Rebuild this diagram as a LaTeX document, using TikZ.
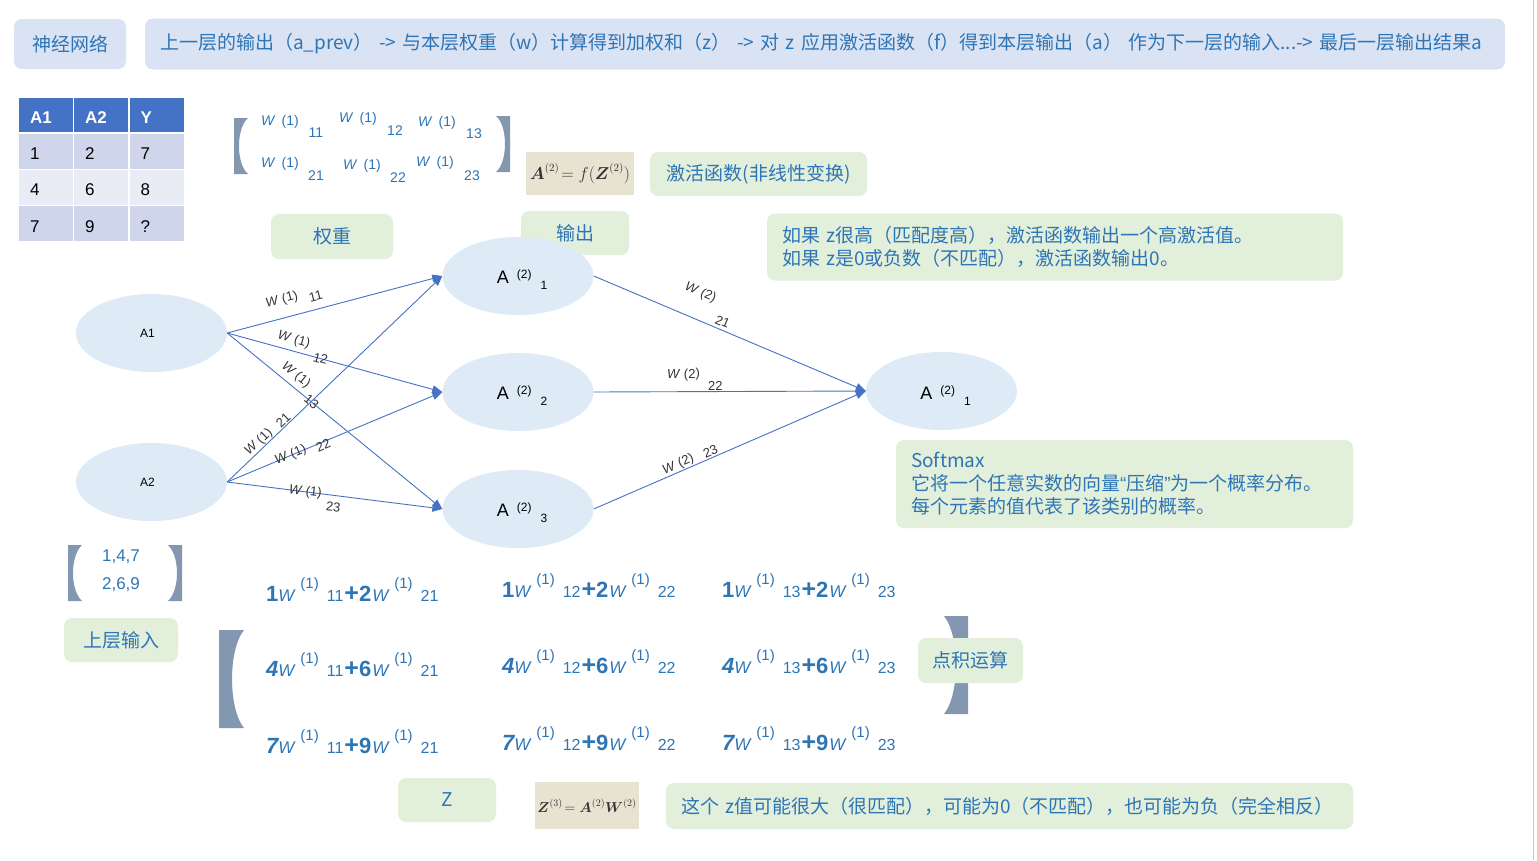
\documentclass[tikz,border=0pt]{standalone}
\usepackage{fontspec}
\setmainfont{Liberation Sans}
\newfontfamily\cjk{Noto Sans CJK SC}
\usepackage{amsmath}
\usepackage{tikz}
\usetikzlibrary{arrows.meta, positioning, shapes.geometric}
\definecolor{TextBlue}{HTML}{2E75B6}
\definecolor{HeadFill}{HTML}{DAE3F3}
\definecolor{NoteFill}{HTML}{E2EFDA}
\definecolor{NeuronFill}{HTML}{DEEBF7}
\definecolor{LinkBlue}{HTML}{4472C4}
\definecolor{BracketGrey}{HTML}{8497B0}
\definecolor{FormulaFill}{HTML}{E8E2D0}
\definecolor{RowDark}{HTML}{CFD5EA}
\definecolor{RowLight}{HTML}{E9EBF5}
\definecolor{LabelGrey}{HTML}{333333}

\newcommand{\wsup}{\raisebox{13pt}{\fontsize{15}{15}\selectfont(1)}}
\newcommand{\bnum}[1]{{\fontsize{22}{22}\selectfont\bfseries #1}}
\newcommand{\bnumi}[1]{{\fontsize{22}{22}\selectfont\bfseries\itshape #1}}
\newcommand{\bplus}[1]{{\fontsize{25}{25}\selectfont\bfseries +}\bnum{#1}}
\newcommand{\dotsum}[4]{#1{\fontsize{17}{17}\selectfont\itshape W}\hspace{6pt}\wsup\hspace{8pt}{\fontsize{16}{16}\selectfont#2}\hspace{1pt}#3\hspace{1pt}{\fontsize{17}{17}\selectfont\itshape W}\hspace{6pt}\wsup\hspace{8pt}{\fontsize{16}{16}\selectfont#4}}
\newcommand{\neuname}[1]{A\hspace{8pt}\raisebox{5pt}{\fontsize{12}{12}\selectfont(2)}\hspace{9pt}\raisebox{-6pt}{\fontsize{12}{12}\selectfont#1}}

\tikzset{
  headbox/.style={fill=HeadFill, rounded corners=8pt, text=TextBlue,
    font=\cjk\fontsize{19}{23}\selectfont, inner sep=0pt},
  notebox/.style={fill=NoteFill, rounded corners=8pt, text=TextBlue,
    font=\cjk\fontsize{19}{23}\selectfont, inner sep=0pt},
  formula/.style={fill=FormulaFill, inner sep=0pt, text=LabelGrey,
    font=\fontsize{16}{16}\selectfont},
  cell/.style={text width=32pt, inner xsep=11pt, inner ysep=0pt, align=left,
    minimum height=35pt, text height=17pt, text depth=0pt,
    font=\fontsize{17}{17}\selectfont},
  neuron/.style={ellipse, fill=NeuronFill, minimum width=151pt,
    minimum height=78pt, inner sep=0pt},
  nlabel/.style={inner sep=0pt, font=\fontsize{18}{18}\selectfont},
  link/.style={draw=LinkBlue, line width=0.9pt,
    -{Triangle[length=10pt,width=8pt]}},
  wlab/.style={sloped, inner sep=0pt, text=LabelGrey,
    font=\fontsize{13}{13}\selectfont},
  mw/.style={text=TextBlue, inner sep=0pt, font=\fontsize{14}{14}\selectfont},
  entry/.style={text=TextBlue, inner sep=0pt, anchor=base west},
  bracket/.style={fill=BracketGrey},
}

\begin{document}
\begin{tikzpicture}[x=1pt, y=-1pt]
\useasboundingbox (0,0) rectangle (1537,860);
\fill[white] (0,0) rectangle (1537,860);
\draw[black!22, line width=1.5pt] (1533.5,0) -- (1533.5,860);

% title row
\node[headbox, minimum width=112pt, minimum height=50pt] (title) at (70,44) {神经网络};
\node[headbox, minimum width=1360pt, minimum height=51pt, text width=1330pt,
  inner xsep=15pt, align=left] (flow) at (825,44)
  {上一层的输出（a\_prev） -> 与本层权重（w）计算得到加权和（z） -> 对 z 应用激活函数（f）得到本层输出（a） 作为下一层的输入...-> 最后一层输出结果a};

% data table
\foreach \c/\xc/\txt in {1/46/A1, 2/101/A2, 3/156.5/Y}
  \node[cell, fill=LinkBlue, text=white, minimum height=34pt,
    font=\bfseries\fontsize{17}{17}\selectfont] (tab-0-\c) at (\xc,115) {\txt};
\foreach \r/\yc/\rf/\a/\b/\cc in {1/151/RowDark/1/2/7, 2/187/RowLight/4/6/8,
    3/223.5/RowDark/7/9/?} {
  \node[cell, fill=\rf] (tab-\r-1) at (46,\yc) {\a};
  \node[cell, fill=\rf] (tab-\r-2) at (101,\yc) {\b};
  \node[cell, fill=\rf] (tab-\r-3) at (156.5,\yc) {\cc};
}

% weight matrix W(1)
\fill[bracket] (234,118) -- (248,118) .. controls (236,128) and (236,164) .. (248,174) -- (234,174) -- cycle;
\fill[bracket] (510,116) -- (496,116) .. controls (508,126) and (508,162) .. (496,172) -- (510,172) -- cycle;
\foreach \nm/\wx/\wy/\sx/\sy in {11/280/122/316/133, 12/358/119/395/131,
    13/437/123/474/134, 21/280/164/316/176, 22/362/166/398/178, 23/435/163/472/176} {
  \node[mw] (mw\nm) at (\wx,\wy) {\textit{W} \,(1)};
  \node[mw] (ms\nm) at (\sx,\sy) {\nm};
}

\node[formula, minimum width=108pt, minimum height=43pt] (actfx) at (580,173.5)
  {$\boldsymbol{A}^{(2)}\!= f(\boldsymbol{Z}^{(2)})$};
\node[notebox, minimum width=217pt, minimum height=44pt] (actlabel) at (758.5,174) {激活函数(非线性变换)};
\node[notebox, minimum width=122pt, minimum height=45pt] (wlabel) at (332,236.5) {权重};
\node[notebox, minimum width=108pt, minimum height=44pt] (outlabel) at (575,233) {输出};
\node[notebox, text width=546pt, inner xsep=15pt, minimum height=67pt, align=left] (relu) at (1055,247)
  {如果 z很高（匹配度高），激活函数输出一个高激活值。\\如果 z是0或负数（不匹配），激活函数输出0。};

% network
\node[neuron] (in1) at (151.5,333) {\hspace*{-8pt}\fontsize{12}{12}\selectfont A1};
\node[neuron] (in2) at (151.5,482) {\hspace*{-8pt}\fontsize{12}{12}\selectfont A2};
\node[neuron] (h1) at (518,276) {};
\node[neuron] (h2) at (518,392) {};
\node[neuron] (h3) at (518,509) {};
\node[neuron] (out) at (941.5,391) {};
\node[nlabel] (h1txt) at ([xshift=4pt,yshift=-4pt]h1.center) {\neuname{1}};
\node[nlabel] (h2txt) at ([xshift=4pt,yshift=-4pt]h2.center) {\neuname{2}};
\node[nlabel] (h3txt) at ([xshift=4pt,yshift=-4pt]h3.center) {\neuname{3}};
\node[nlabel] (outtxt) at ([xshift=4pt,yshift=-5pt]out.center) {\neuname{1}};

\draw[link] (in1.east) -- (h1.west)
  node[wlab, pos=0.275, yshift=18pt] (l11a) {\textit{W} (1)}
  node[wlab, pos=0.427, yshift=13pt] (l11b) {11};
\draw[link] (in1.east) -- (h2.west)
  node[wlab, pos=0.296, yshift=11pt] (l12a) {\textit{W} (1)}
  node[wlab, pos=0.434, yshift=0pt] (l12b) {12};
\draw[link] (in1.east) -- (h3.west)
  node[wlab, pos=0.287, yshift=11pt] (l13a) {\textit{W} (1)}
  node[wlab, pos=0.392, yshift=0pt] (l13b) {13};
\draw[link] (in2.east) -- (h1.west)
  node[wlab, pos=0.169, yshift=7pt] (l21a) {\textit{W} (1)}
  node[wlab, pos=0.28, yshift=6pt] (l21b) {21};
\draw[link] (in2.east) -- (h2.west)
  node[wlab, pos=0.295, yshift=0pt] (l22a) {\textit{W} (1)}
  node[wlab, pos=0.441, yshift=-3pt] (l22b) {22};
\draw[link] (in2.east) -- (h3.west)
  node[wlab, pos=0.363, yshift=0pt] (l23a) {\textit{W} (1)}
  node[wlab, pos=0.5, yshift=-12pt] (l23b) {23};

\draw[link] (h1.east) -- (out.west)
  node[wlab, pos=0.355, yshift=26pt] (m21a) {\textit{W} (2)}
  node[wlab, pos=0.462, yshift=8pt] (m21b) {21};
\draw[link] (h2.east) -- (out.west)
  node[wlab, pos=0.33, yshift=17pt] (m22a) {\textit{W} (2)}
  node[wlab, pos=0.447, yshift=6pt] (m22b) {22};
\draw[link] (h3.east) -- (out.west)
  node[wlab, pos=0.321, yshift=7pt] (m23a) {\textit{W} (2)}
  node[wlab, pos=0.4375, yshift=6pt] (m23b) {23};

\node[notebox, text width=427pt, inner xsep=15pt, minimum height=88pt, align=left] (softmax) at (1124.5,484)
  {Softmax\\它将一个任意实数的向量{\rmfamily“}压缩{\rmfamily”}为一个概率分布。\\每个元素的值代表了该类别的概率。};

% input vector
\fill[bracket] (68,545) -- (82,545) .. controls (70,556) and (70,590) .. (82,601) -- (68,601) -- cycle;
\fill[bracket] (182,545) -- (168,545) .. controls (180,556) and (180,590) .. (168,601) -- (182,601) -- cycle;
\node[mw, font=\fontsize{17}{17}\selectfont] (vec1) at (121,557) {1,4,7};
\node[mw, font=\fontsize{17}{17}\selectfont] (vec2) at (121,585) {2,6,9};
\node[notebox, minimum width=114pt, minimum height=44pt] (inlabel) at (121,640) {上层输入};

% dot products
\fill[bracket] (219,630) -- (244,630) .. controls (228,650) and (228,708) .. (244,728) -- (219,728) -- cycle;
\fill[bracket] (968,616) -- (944,616) .. controls (960,636) and (960,694) .. (944,714) -- (968,714) -- cycle;
\foreach \j/\xs/\yb in {1/266/601.5, 2/502/597.5, 3/722/597.5}
  \node[entry] (z1\j) at (\xs,\yb) {\dotsum{\bnum{1}}{1\j}{\bplus{2}}{2\j}};
\foreach \j/\xs/\yb in {1/266/676.5, 2/502/673.5, 3/722/673.5}
  \node[entry] (z2\j) at (\xs,\yb) {\dotsum{\bnumi{4}}{1\j}{\bplus{6}}{2\j}};
\foreach \j/\xs/\yb in {1/266/753.5, 2/502/750.5, 3/722/750.5}
  \node[entry] (z3\j) at (\xs,\yb) {\dotsum{\bnumi{7}}{1\j}{\bplus{9}}{2\j}};
\node[notebox, minimum width=105pt, minimum height=45pt] (dotlabel) at (970.5,660.5) {点积运算};

% bottom row
\node[notebox, minimum width=98pt, minimum height=44pt] (zlabel) at (447,800) {Z};
\node[formula, minimum width=104pt, minimum height=47pt, font=\fontsize{14}{14}\selectfont] (zfx) at (587,805.5)
  {$\boldsymbol{Z}^{(3)}\!= \boldsymbol{A}^{(2)}\boldsymbol{W}^{(2)}$};
\node[notebox, text width=657pt, inner xsep=15pt, minimum height=46pt, align=left] (zrange) at (1009.5,806)
  {这个 z值可能很大（很匹配），可能为0（不匹配），也可能为负（完全相反）};
\end{tikzpicture}
\end{document}
